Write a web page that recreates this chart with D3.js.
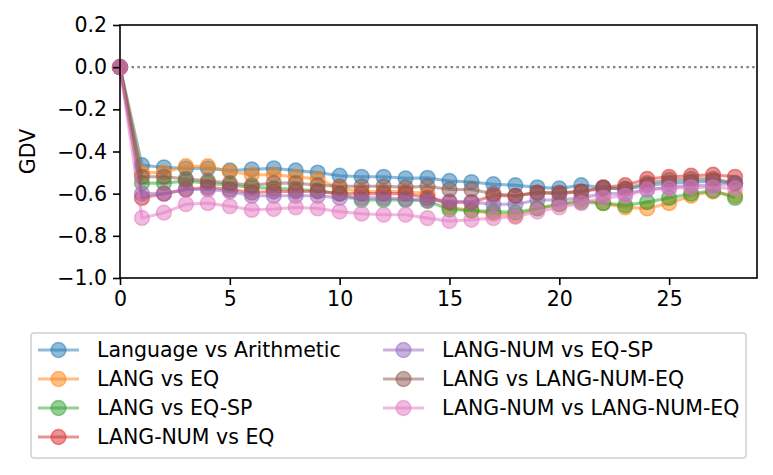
<!DOCTYPE html>
<html>
<head>
<meta charset="utf-8">
<script src="https://cdn.jsdelivr.net/npm/d3@7"></script>
<style>
  body { margin: 0; background: #fff; }
  svg { font-family: "DejaVu Sans", sans-serif; }
</style>
</head>
<body>
<div id="chart"></div>
<script>
// layers 0..28
const layers = d3.range(0, 29);

const seriesNames = [
    'Language vs Arithmetic',
    'LANG vs EQ',
    'LANG vs EQ-SP',
    'LANG-NUM vs EQ',
    'LANG-NUM vs EQ-SP',
    'LANG vs LANG-NUM-EQ',
    'LANG-NUM vs LANG-NUM-EQ'
];

const langVsArith = [0, -0.465, -0.475, -0.48, -0.48, -0.49, -0.485, -0.48, -0.49, -0.50, -0.515, -0.52, -0.52, -0.527, -0.525, -0.54,
    -0.545, -0.555, -0.56, -0.57, -0.575, -0.56, -0.57, -0.58, -0.56, -0.55, -0.545, -0.54, -0.55];
const langVsEq = [0, -0.50, -0.50, -0.47, -0.47, -0.495, -0.51, -0.51, -0.52, -0.53, -0.575, -0.59, -0.59, -0.59, -0.60, -0.665,
    -0.68, -0.695, -0.705, -0.67, -0.65, -0.63, -0.645, -0.665, -0.67, -0.645, -0.61, -0.59, -0.61];
const langVsEqSp = [0, -0.55, -0.55, -0.54, -0.55, -0.56, -0.57, -0.575, -0.58, -0.585, -0.60, -0.63, -0.63, -0.63, -0.635, -0.675,
    -0.68, -0.685, -0.69, -0.67, -0.65, -0.64, -0.645, -0.655, -0.64, -0.62, -0.60, -0.585, -0.62];
const langNumVsEq = [0, -0.62, -0.60, -0.58, -0.57, -0.58, -0.595, -0.59, -0.59, -0.59, -0.60, -0.60, -0.60, -0.60, -0.62, -0.64,
    -0.64, -0.61, -0.61, -0.595, -0.60, -0.59, -0.57, -0.56, -0.53, -0.52, -0.515, -0.51, -0.52];
const langNumVsEqSp = [0, -0.60, -0.60, -0.58, -0.58, -0.59, -0.61, -0.61, -0.61, -0.61, -0.62, -0.62, -0.62, -0.625, -0.63, -0.637,
    -0.64, -0.65, -0.65, -0.63, -0.63, -0.62, -0.60, -0.60, -0.58, -0.57, -0.56, -0.56, -0.55];
const langVsLangNumEq = [0, -0.52, -0.52, -0.53, -0.54, -0.55, -0.56, -0.55, -0.55, -0.56, -0.565, -0.565, -0.565, -0.57, -0.565, -0.58,
    -0.58, -0.60, -0.61, -0.595, -0.595, -0.59, -0.575, -0.575, -0.55, -0.535, -0.53, -0.53, -0.55];
const langNumVsLangNumEq = [0, -0.715, -0.69, -0.65, -0.645, -0.66, -0.677, -0.673, -0.665, -0.67, -0.685, -0.695, -0.70, -0.70, -0.716, -0.73,
    -0.724, -0.716, -0.71, -0.685, -0.665, -0.645, -0.62, -0.61, -0.58, -0.575, -0.57, -0.57, -0.575];

const seriesValues = [langVsArith, langVsEq, langVsEqSp, langNumVsEq, langNumVsEqSp, langVsLangNumEq, langNumVsLangNumEq];
const colors = ['#1f77b4', '#ff7f0e', '#2ca02c', '#d62728', '#9467bd', '#8c564b', '#e377c2'];

const xTicks = [0, 5, 10, 15, 20, 25];
const yTicks = [0.2, 0.0, -0.2, -0.4, -0.6, -0.8, -1.0];

const width = 773, height = 475;
const margin = { top: 25, right: 16, bottom: 197, left: 120 };
const plotW = width - margin.left - margin.right;
const plotH = height - margin.top - margin.bottom;
const fontSize = 20.5;

const svg = d3.select('#chart').append('svg')
    .attr('width', width)
    .attr('height', height);

const scaleX = d3.scaleLinear([0, 29], [0, plotW]);
const scaleY = d3.scaleLinear([-1.0, 0.2], [plotH, 0]);

const chart = svg.append('g').attr('transform', `translate(${margin.left},${margin.top})`);

svg.append('clipPath').attr('id', 'clip')
    .append('rect').attr('width', plotW).attr('height', plotH);

const plot = chart.append('g').attr('clip-path', 'url(#clip)');

// dotted zero line
plot.append('line')
    .attr('x1', 0).attr('x2', plotW)
    .attr('y1', scaleY(0)).attr('y2', scaleY(0))
    .attr('stroke', '#808080')
    .attr('stroke-width', 2.4)
    .attr('stroke-dasharray', '2.4,3.4');

const lineGen = d3.line()
    .x((d, i) => scaleX(layers[i]))
    .y(d => scaleY(d));

seriesValues.forEach((vals, k) => {
    const g = chart.append('g');
    g.append('path')
        .attr('d', lineGen(vals))
        .attr('fill', 'none')
        .attr('stroke', colors[k])
        .attr('stroke-opacity', 0.5)
        .attr('stroke-width', 3.1);
    g.selectAll('circle')
        .data(vals)
        .join('circle')
        .attr('cx', (d, i) => scaleX(layers[i]))
        .attr('cy', d => scaleY(d))
        .attr('r', 7.4)
        .attr('fill', colors[k])
        .attr('fill-opacity', 0.5)
        .attr('stroke', colors[k])
        .attr('stroke-opacity', 0.5)
        .attr('stroke-width', 1.5);
});

// axes
const axisX = d3.axisBottom(scaleX).tickValues(xTicks).tickSize(7).tickPadding(6).tickFormat(d3.format('d'));
const axisY = d3.axisLeft(scaleY).tickValues(yTicks).tickSize(7).tickPadding(6)
    .tickFormat(d => d3.format('.1f')(d).replace('-', '\u2212'));

const gx = chart.append('g').attr('transform', `translate(0,${plotH})`).call(axisX);
const gy = chart.append('g').call(axisY);
[gx, gy].forEach(g => {
    g.select('.domain').remove();
    g.selectAll('line').attr('stroke', '#000').attr('stroke-width', 1.6);
    g.selectAll('text').attr('font-size', fontSize).attr('fill', '#000')
        .attr('font-family', '"DejaVu Sans", sans-serif');
});

// frame
chart.append('rect')
    .attr('width', plotW).attr('height', plotH)
    .attr('fill', 'none').attr('stroke', '#000').attr('stroke-width', 1.6);

// y label
svg.append('text')
    .attr('transform', `translate(35,${margin.top + plotH / 2}) rotate(-90)`)
    .attr('text-anchor', 'middle')
    .attr('font-size', fontSize)
    .text('GDV');

// legend
const legend = svg.append('g').attr('transform', 'translate(31,333)');
legend.append('rect')
    .attr('width', 715).attr('height', 125)
    .attr('rx', 3)
    .attr('fill', '#fff')
    .attr('stroke', '#d0d0d0')
    .attr('stroke-width', 1.5);

seriesNames.forEach((name, k) => {
    const col = k < 4 ? 0 : 1;
    const row = k < 4 ? k : k - 4;
    const item = legend.append('g')
        .attr('transform', `translate(${col === 0 ? 7 : 352},${17 + row * 29})`);
    item.append('line')
        .attr('x1', 0).attr('x2', 41)
        .attr('stroke', colors[k]).attr('stroke-opacity', 0.5).attr('stroke-width', 3.1);
    item.append('circle')
        .attr('cx', 20.5).attr('r', 7.4)
        .attr('fill', colors[k]).attr('fill-opacity', 0.5)
        .attr('stroke', colors[k]).attr('stroke-opacity', 0.5).attr('stroke-width', 1.5);
    item.append('text')
        .attr('x', 59).attr('dy', '0.35em')
        .attr('font-size', fontSize)
        .text(name);
});
</script>
</body>
</html>
